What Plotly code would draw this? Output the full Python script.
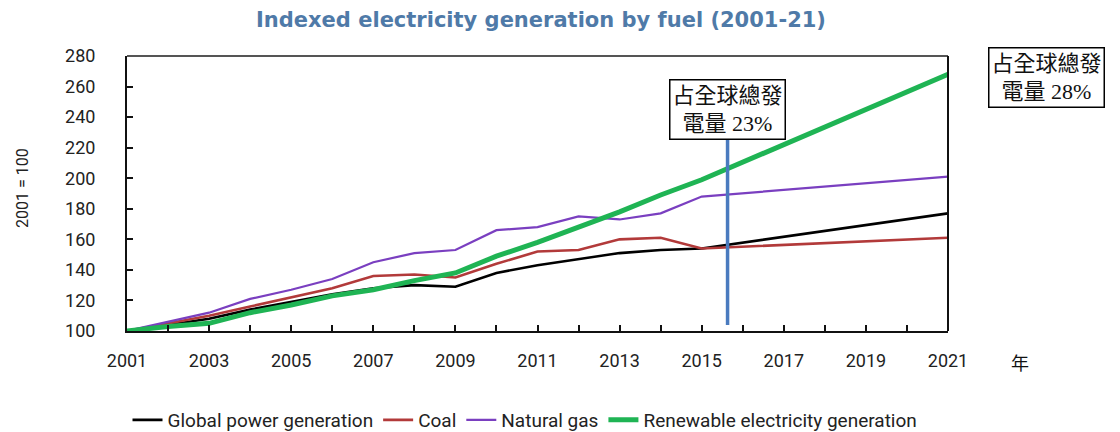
import plotly.graph_objects as go

years = [2001, 2002, 2003, 2004, 2005, 2006, 2007, 2008, 2009, 2010, 2011, 2012, 2013, 2014, 2015, 2021]
global_power = [100, 104, 108, 114, 119, 124, 128, 130, 129, 138, 143, 147, 151, 153, 154, 177]
coal = [100, 105, 110, 116, 122, 128, 136, 137, 135, 144, 152, 153, 160, 161, 154, 161]
natural_gas = [100, 106, 112, 121, 127, 134, 145, 151, 153, 166, 168, 175, 173, 177, 188, 201]
renewable = [100, 103, 105, 112, 117, 123, 127, 133, 138, 149, 158, 168, 178, 189, 199, 268]

series_names = ["Global power generation", "Coal", "Natural gas", "Renewable electricity generation"]
series_colors = ["#000000", "#b23a3a", "#7a3fc0", "#1fb454"]
series_widths = [2.6, 2.6, 2.2, 5]

x_tickvals = list(range(2001, 2022, 2))
y_tickvals = list(range(100, 281, 20))

marker_year = 2015.63
marker_low = 104
marker_high = 225

box1_text = "占全球總發<br>電量 23%"
box2_text = "占全球總發<br>電量 28%"

# plot-area geometry in page pixels (used only to place free-floating labels)
PL, PR, PT, PB = 127, 948, 56, 331


def px(x):
    return (x - PL) / (PR - PL)


def py(y):
    return (PB - y) / (PB - PT)


fig = go.Figure()
for vals, name, color, w in zip([global_power, coal, natural_gas, renewable], series_names, series_colors, series_widths):
    fig.add_trace(go.Scatter(x=years, y=vals, mode="lines", name=name,
                             line=dict(color=color, width=w)))

fig.add_shape(type="line", xref="x", yref="y", x0=marker_year, x1=marker_year,
              y0=marker_low, y1=marker_high, line=dict(color="#4a7bbf", width=3.5))

box_font = dict(family="Liberation Serif, Noto Sans CJK TC", size=22, color="#111")
fig.add_annotation(x=marker_year, y=marker_high, xref="x", yref="y", xanchor="center", yanchor="bottom",
                   text=box1_text, showarrow=False, align="center", font=box_font,
                   bordercolor="#000", borderwidth=1.5, borderpad=2, bgcolor="white")
fig.add_annotation(x=px(1046), y=py(77), xref="paper", yref="paper", xanchor="center", yanchor="middle",
                   text=box2_text, showarrow=False, align="center", font=box_font,
                   bordercolor="#000", borderwidth=1.5, borderpad=2, bgcolor="white")

fig.add_annotation(x=px(1020), y=py(362), xref="paper", yref="paper", xanchor="center", yanchor="middle",
                   text="年", showarrow=False,
                   font=dict(family="Noto Sans CJK TC", size=18, color="#111"))

fig.add_annotation(x=px(22), y=py(188), xref="paper", yref="paper", xanchor="center", yanchor="middle",
                   text="2001 = 100", textangle=-90, showarrow=False,
                   font=dict(family="Roboto", size=16, color="#222"))

tick_font = dict(family="Roboto", size=18, color="#222")
fig.update_layout(
    width=1120, height=432,
    margin=dict(l=119, r=180, t=48, b=109),
    paper_bgcolor="white", plot_bgcolor="white",
    title=dict(text="<b>Indexed electricity generation by fuel (2001-21)</b>", x=533 / 1120,
               xanchor="center", xref="container", y=1 - 12 / 432, yanchor="middle",
               font=dict(family="DejaVu Sans", size=21, color="#4f7aa8")),
    showlegend=True,
    legend=dict(orientation="h", x=517 / 1120, xanchor="center", xref="container",
                y=1 - 412 / 432, yanchor="middle", yref="container",
                font=dict(family="Roboto", size=19, color="#222"),
                itemwidth=30, tracegroupgap=0),
    xaxis=dict(range=[2001, 2021], tickvals=x_tickvals, ticktext=[str(v) for v in x_tickvals],
               showgrid=False, zeroline=False, showline=True, linecolor="#111", linewidth=2,
               ticks="inside", ticklen=6, tickwidth=2, tickcolor="#111", ticklabelstandoff=12,
               minor=dict(dtick=1, ticks="inside", ticklen=6, tickwidth=2, tickcolor="#111"),
               tickfont=tick_font),
    yaxis=dict(range=[100, 280], tickvals=y_tickvals, showgrid=False, zeroline=False,
               showline=True, linecolor="#111", linewidth=2, ticks="inside", ticklen=6, tickwidth=2,
               tickcolor="#111", ticklabelstandoff=26, tickfont=tick_font),
)
# frame: top and right border
fig.add_shape(type="line", xref="paper", yref="paper", x0=0, x1=1, y0=1, y1=1,
              line=dict(color="#555", width=2))
fig.add_shape(type="line", xref="paper", yref="paper", x0=1, x1=1, y0=0, y1=1,
              line=dict(color="#111", width=2))

fig.write_html("out.html")
